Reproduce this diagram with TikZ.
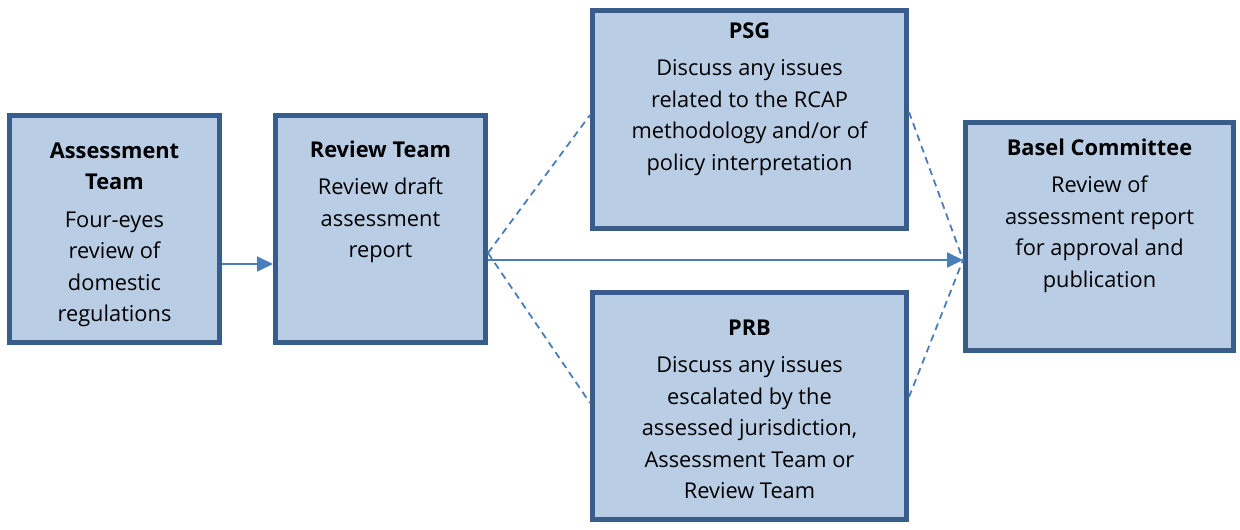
\documentclass[tikz,border=0pt]{standalone}
\usepackage{fontspec}
\setmainfont{Open Sans}
\usetikzlibrary{arrows.meta}
\definecolor{boxfill}{HTML}{B9CDE5}
\definecolor{boxline}{HTML}{385D8A}
\definecolor{conn}{HTML}{4A7EBB}
\begin{document}
\begin{tikzpicture}[x=1pt,y=1pt,
  stagebox/.style={draw=boxline,fill=boxfill,line width=5pt,inner sep=0pt,rectangle},
  boxtext/.style={anchor=north,inner sep=0pt,align=center,font=\fontsize{21.8}{31.5}\selectfont,text=black},
  arr/.style={draw=conn,line width=1.8pt,-{Triangle[length=16pt,width=15pt]}},
  dashconn/.style={draw=conn,line width=1.8pt,dash pattern=on 7pt off 5pt}]
\useasboundingbox (0,0) rectangle (1240,530);
% boxes
\node[stagebox,minimum width=210pt,minimum height=227pt] (A) at (114.5,301) {};
\node[stagebox,minimum width=210pt,minimum height=227pt] (R) at (380.5,301) {};
\node[stagebox,minimum width=314pt,minimum height=218pt] (P) at (749.5,410.5) {};
\node[stagebox,minimum width=314pt,minimum height=227pt] (B) at (749.5,123.5) {};
\node[stagebox,minimum width=268pt,minimum height=228pt] (C) at (1099.5,293.5) {};
% texts
\node[boxtext] (At) at (114.5,394) {\strut\textbf{Assessment}\\\textbf{Team}\\[6pt]Four-eyes\\review of\\domestic\\regulations};
\node[boxtext] (Rt) at (380.5,395) {\strut\textbf{Review Team}\\[6pt]Review draft\\assessment\\report};
\node[boxtext] (Pt) at (749.5,514) {\strut\textbf{PSG}\\[6pt]Discuss any issues\\related to the RCAP\\methodology and/or of\\policy interpretation};
\node[boxtext] (Bt) at (749.5,217) {\strut\textbf{PRB}\\[6pt]Discuss any issues\\escalated by the\\assessed jurisdiction,\\Assessment Team or\\Review Team};
\node[boxtext] (Ct) at (1099.5,397) {\strut\textbf{Basel Committee}\\[6pt]Review of\\assessment report\\for approval and\\publication};
% connectors
\draw[arr] ([yshift=-35pt]A.east) -- ([yshift=-35pt]R.west);
\draw[arr] ([yshift=-31pt]R.east) -- ([yshift=-23.5pt]C.west);
\draw[dashconn] ([yshift=-24pt]R.east) -- ([yshift=4.5pt]P.west);
\draw[dashconn] ([yshift=-24pt]R.east) -- ([yshift=3.5pt]B.west);
\draw[dashconn] ([yshift=7.5pt]P.east) -- ([yshift=-23.5pt]C.west);
\draw[dashconn] ([yshift=9.5pt]B.east) -- ([yshift=-23.5pt]C.west);
\end{tikzpicture}
\end{document}
